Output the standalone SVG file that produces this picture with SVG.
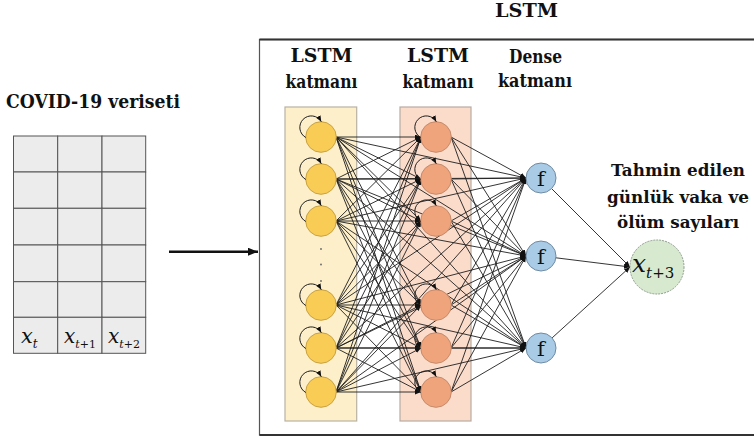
<svg xmlns="http://www.w3.org/2000/svg" xmlns:xlink="http://www.w3.org/1999/xlink" width="754" height="439" viewBox="0 0 754 439">
  <style>
    text { font-family: 'DejaVu Serif', 'Liberation Serif', serif; fill: #111; }
    .title { font-weight: bold; font-size: 18.5px; text-anchor: middle; }
    .note { font-weight: bold; font-size: 17.5px; text-anchor: middle; }
    .math { font-style: italic; }
    .cell { fill: #ececec; stroke: #555; stroke-width: 1; }
    .lstm1 { fill: #f8cc55; stroke: #c9a243; stroke-width: 1; }
    .lstm2 { fill: #f0a47c; stroke: #c58a6b; stroke-width: 1; }
    .dense { fill: #a9cbe6; stroke: #6f8ba2; stroke-width: 1; }
    .out { fill: #d7ead0; stroke: #8e9c8c; stroke-width: 1; stroke-dasharray: 2 1; }
    .conn line { stroke: #1e1e1e; stroke-width: 0.9; marker-end: url(#tip); }
    .loop { fill: none; stroke: #1e1e1e; stroke-width: 1; marker-end: url(#tip); }
    .f { font-size: 21px; text-anchor: middle; }
  </style>
  <defs>
    <marker id="tip" markerUnits="userSpaceOnUse" markerWidth="7" markerHeight="6" refX="6" refY="2.5" orient="auto">
      <path d="M0,0 L6,2.5 L0,5 z" fill="#111"/>
    </marker>
    <marker id="bigtip" markerUnits="userSpaceOnUse" markerWidth="11" markerHeight="9" refX="10" refY="4" orient="auto">
      <path d="M0,0 L10,4 L0,8 z" fill="#111"/>
    </marker>
    <!-- recurrent self-loop, drawn relative to node centre -->
    <path id="loop" class="loop" d="M-15.2,0.5 A11.5,11.5 0 1 1 0.3,-15.3"/>
  </defs>

  <rect width="754" height="439" fill="#fff"/>

  <!-- dataset table -->
  <g id="dataset">
    <text class="title" x="93" y="108" textLength="174" lengthAdjust="spacingAndGlyphs">COVID-19 veriseti</text>
    <rect class="cell" x="13.5" y="136" width="44.2" height="36"/>
    <rect class="cell" x="57.7" y="136" width="44.3" height="36"/>
    <rect class="cell" x="102" y="136" width="43.7" height="36"/>
    <rect class="cell" x="13.5" y="172" width="44.2" height="36.3"/>
    <rect class="cell" x="57.7" y="172" width="44.3" height="36.3"/>
    <rect class="cell" x="102" y="172" width="43.7" height="36.3"/>
    <rect class="cell" x="13.5" y="208.3" width="44.2" height="36.7"/>
    <rect class="cell" x="57.7" y="208.3" width="44.3" height="36.7"/>
    <rect class="cell" x="102" y="208.3" width="43.7" height="36.7"/>
    <rect class="cell" x="13.5" y="245" width="44.2" height="36.7"/>
    <rect class="cell" x="57.7" y="245" width="44.3" height="36.7"/>
    <rect class="cell" x="102" y="245" width="43.7" height="36.7"/>
    <rect class="cell" x="13.5" y="281.7" width="44.2" height="35.6"/>
    <rect class="cell" x="57.7" y="281.7" width="44.3" height="35.6"/>
    <rect class="cell" x="102" y="281.7" width="43.7" height="35.6"/>
    <rect class="cell" x="13.5" y="317.3" width="44.2" height="36"/>
    <rect class="cell" x="57.7" y="317.3" width="44.3" height="36"/>
    <rect class="cell" x="102" y="317.3" width="43.7" height="36"/>
    <text class="math" x="21" y="343" font-size="21">x<tspan font-size="12" dy="5">t</tspan></text>
    <text class="math" x="64" y="343" font-size="20">x<tspan font-size="11" dy="5">t</tspan><tspan font-size="11" font-style="normal">+1</tspan></text>
    <text class="math" x="108" y="343" font-size="20">x<tspan font-size="11" dy="5">t</tspan><tspan font-size="11" font-style="normal">+2</tspan></text>
  </g>

  <!-- input arrow into the model -->
  <line x1="169" y1="251.7" x2="258" y2="251.7" stroke="#111" stroke-width="2.5" marker-end="url(#bigtip)"/>

  <!-- model frame -->
  <g id="model">
    <text class="title" x="526.5" y="17" textLength="63" lengthAdjust="spacingAndGlyphs">LSTM</text>
    <rect x="259.5" y="39.5" width="500" height="395.5" fill="none" stroke="#555" stroke-width="1.2"/>
    <line x1="259.5" y1="39.5" x2="754" y2="39.5" stroke="#333" stroke-width="2"/>
    <line x1="259.5" y1="435" x2="754" y2="435" stroke="#333" stroke-width="2"/>
  </g>

  <!-- layer headers -->
  <g id="headers">
    <text class="title" x="321.5" y="62" textLength="62" lengthAdjust="spacingAndGlyphs">LSTM</text>
    <text class="title" x="321.5" y="88" textLength="72" lengthAdjust="spacingAndGlyphs">katmanı</text>
    <text class="title" x="438" y="62" textLength="62" lengthAdjust="spacingAndGlyphs">LSTM</text>
    <text class="title" x="438" y="88" textLength="71" lengthAdjust="spacingAndGlyphs">katmanı</text>
    <text class="title" x="535.5" y="63" textLength="53" lengthAdjust="spacingAndGlyphs">Dense</text>
    <text class="title" x="535" y="87" textLength="74" lengthAdjust="spacingAndGlyphs">katmanı</text>
  </g>

  <!-- layer backgrounds -->
  <rect id="layer1-bg" x="285" y="107" width="71.7" height="314" fill="#fcefca" stroke="#b9b2a2" stroke-width="1.2"/>
  <rect id="layer2-bg" x="400" y="107" width="71" height="314" fill="#fbdccb" stroke="#b9aaa2" stroke-width="1.2"/>

  <!-- connectors -->
  <g id="connectors" class="conn">
    <!-- LSTM 1 -> LSTM 2 -->
    <line x1="336" y1="137" x2="421" y2="137"/><line x1="336" y1="137" x2="421" y2="179"/><line x1="336" y1="137" x2="421" y2="221"/><line x1="336" y1="137" x2="421" y2="305"/><line x1="336" y1="137" x2="421" y2="348"/><line x1="336" y1="137" x2="421" y2="392"/>
    <line x1="336" y1="179" x2="421" y2="137"/><line x1="336" y1="179" x2="421" y2="179"/><line x1="336" y1="179" x2="421" y2="221"/><line x1="336" y1="179" x2="421" y2="305"/><line x1="336" y1="179" x2="421" y2="348"/><line x1="336" y1="179" x2="421" y2="392"/>
    <line x1="336" y1="221" x2="421" y2="137"/><line x1="336" y1="221" x2="421" y2="179"/><line x1="336" y1="221" x2="421" y2="221"/><line x1="336" y1="221" x2="421" y2="305"/><line x1="336" y1="221" x2="421" y2="348"/><line x1="336" y1="221" x2="421" y2="392"/>
    <line x1="336" y1="305" x2="421" y2="137"/><line x1="336" y1="305" x2="421" y2="179"/><line x1="336" y1="305" x2="421" y2="221"/><line x1="336" y1="305" x2="421" y2="305"/><line x1="336" y1="305" x2="421" y2="348"/><line x1="336" y1="305" x2="421" y2="392"/>
    <line x1="336" y1="348" x2="421" y2="137"/><line x1="336" y1="348" x2="421" y2="179"/><line x1="336" y1="348" x2="421" y2="221"/><line x1="336" y1="348" x2="421" y2="305"/><line x1="336" y1="348" x2="421" y2="348"/><line x1="336" y1="348" x2="421" y2="392"/>
    <line x1="336" y1="392" x2="421" y2="137"/><line x1="336" y1="392" x2="421" y2="179"/><line x1="336" y1="392" x2="421" y2="221"/><line x1="336" y1="392" x2="421" y2="305"/><line x1="336" y1="392" x2="421" y2="348"/><line x1="336" y1="392" x2="421" y2="392"/>
    <!-- LSTM 1 -> Dense -->
    <line x1="336" y1="137" x2="526" y2="178"/><line x1="336" y1="137" x2="526" y2="256"/><line x1="336" y1="137" x2="526" y2="348"/>
    <line x1="336" y1="179" x2="526" y2="178"/><line x1="336" y1="179" x2="526" y2="256"/><line x1="336" y1="179" x2="526" y2="348"/>
    <line x1="336" y1="221" x2="526" y2="178"/><line x1="336" y1="221" x2="526" y2="256"/><line x1="336" y1="221" x2="526" y2="348"/>
    <line x1="336" y1="305" x2="526" y2="178"/><line x1="336" y1="305" x2="526" y2="256"/><line x1="336" y1="305" x2="526" y2="348"/>
    <line x1="336" y1="348" x2="526" y2="178"/><line x1="336" y1="348" x2="526" y2="256"/><line x1="336" y1="348" x2="526" y2="348"/>
    <line x1="336" y1="392" x2="526" y2="178"/><line x1="336" y1="392" x2="526" y2="256"/><line x1="336" y1="392" x2="526" y2="348"/>
    <!-- LSTM 2 -> Dense -->
    <line x1="451" y1="137" x2="526" y2="178"/><line x1="451" y1="137" x2="526" y2="256"/><line x1="451" y1="137" x2="526" y2="348"/>
    <line x1="451" y1="179" x2="526" y2="178"/><line x1="451" y1="179" x2="526" y2="256"/><line x1="451" y1="179" x2="526" y2="348"/>
    <line x1="451" y1="221" x2="526" y2="178"/><line x1="451" y1="221" x2="526" y2="256"/><line x1="451" y1="221" x2="526" y2="348"/>
    <line x1="451" y1="305" x2="526" y2="178"/><line x1="451" y1="305" x2="526" y2="256"/><line x1="451" y1="305" x2="526" y2="348"/>
    <line x1="451" y1="348" x2="526" y2="178"/><line x1="451" y1="348" x2="526" y2="256"/><line x1="451" y1="348" x2="526" y2="348"/>
    <line x1="451" y1="392" x2="526" y2="178"/><line x1="451" y1="392" x2="526" y2="256"/><line x1="451" y1="392" x2="526" y2="348"/>
    <!-- Dense -> output -->
    <line x1="551.6" y1="188.6" x2="630" y2="267"/>
    <line x1="555.9" y1="257.8" x2="630" y2="267"/>
    <line x1="552.1" y1="337.9" x2="630" y2="267"/>
  </g>

  <!-- first LSTM layer -->
  <g id="lstm1">
    <circle class="lstm1" cx="321" cy="137" r="15.3"/><use xlink:href="#loop" href="#loop" x="321" y="137"/>
    <circle class="lstm1" cx="321" cy="179" r="15.3"/><use xlink:href="#loop" href="#loop" x="321" y="179"/>
    <circle class="lstm1" cx="321" cy="221" r="15.3"/><use xlink:href="#loop" href="#loop" x="321" y="221"/>
    <circle cx="321" cy="249" r="0.9" fill="#666"/>
    <circle cx="321" cy="264.5" r="0.9" fill="#666"/>
    <circle cx="321" cy="281" r="0.9" fill="#666"/>
    <circle class="lstm1" cx="321" cy="305" r="15.3"/><use xlink:href="#loop" href="#loop" x="321" y="305"/>
    <circle class="lstm1" cx="321" cy="348" r="15.3"/><use xlink:href="#loop" href="#loop" x="321" y="348"/>
    <circle class="lstm1" cx="321" cy="392" r="15.3"/><use xlink:href="#loop" href="#loop" x="321" y="392"/>
  </g>

  <!-- second LSTM layer -->
  <g id="lstm2">
    <circle class="lstm2" cx="436" cy="137" r="15.3"/><use xlink:href="#loop" href="#loop" x="436" y="137"/>
    <circle class="lstm2" cx="436" cy="179" r="15.3"/><use xlink:href="#loop" href="#loop" x="436" y="179"/>
    <circle class="lstm2" cx="436" cy="221" r="15.3"/><use xlink:href="#loop" href="#loop" x="436" y="221"/>
    <circle class="lstm2" cx="436" cy="305" r="15.3"/><use xlink:href="#loop" href="#loop" x="436" y="305"/>
    <circle class="lstm2" cx="436" cy="348" r="15.3"/><use xlink:href="#loop" href="#loop" x="436" y="348"/>
    <circle class="lstm2" cx="436" cy="392" r="15.3"/><use xlink:href="#loop" href="#loop" x="436" y="392"/>
  </g>

  <!-- dense layer -->
  <g id="dense1"><circle class="dense" cx="541" cy="178" r="15"/><text class="f" x="541" y="185.5">f</text></g>
  <g id="dense2"><circle class="dense" cx="541" cy="256" r="15"/><text class="f" x="541" y="263.5">f</text></g>
  <g id="dense3"><circle class="dense" cx="541" cy="348" r="15"/><text class="f" x="541" y="355.5">f</text></g>

  <!-- prediction -->
  <g id="output">
    <text class="note" x="678" y="176" textLength="134" lengthAdjust="spacingAndGlyphs">Tahmin edilen</text>
    <text class="note" x="678" y="203" textLength="142" lengthAdjust="spacingAndGlyphs">günlük vaka ve</text>
    <text class="note" x="678" y="228" textLength="122" lengthAdjust="spacingAndGlyphs">ölüm sayıları</text>
    <circle class="out" cx="657" cy="267" r="27"/>
    <text class="math" x="632" y="272" font-size="25">x<tspan font-size="15" dy="6">t</tspan><tspan font-size="15" font-style="normal">+3</tspan></text>
  </g>
</svg>
